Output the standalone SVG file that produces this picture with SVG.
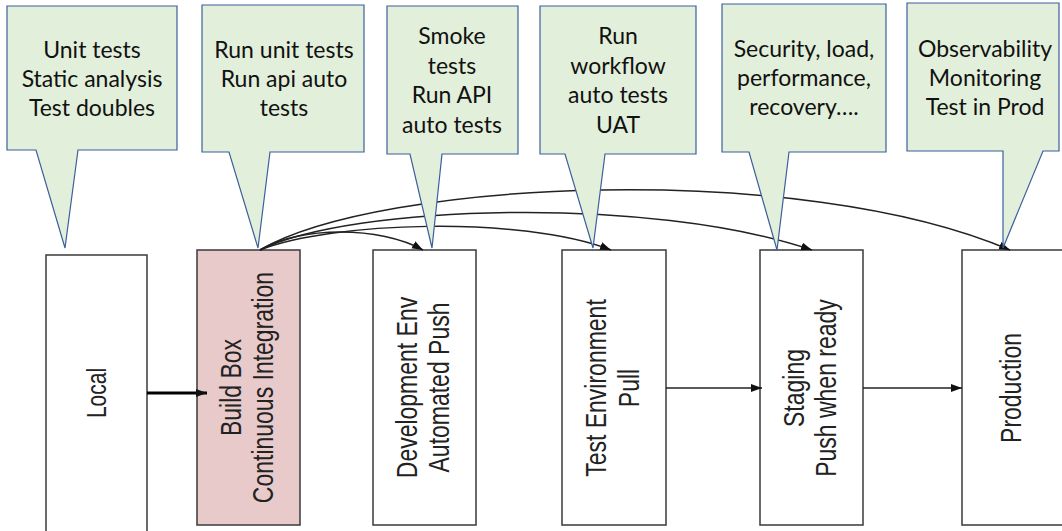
<svg xmlns="http://www.w3.org/2000/svg" width="1062" height="531" viewBox="0 0 1062 531">
<defs>
<marker id="ah" markerUnits="userSpaceOnUse" markerWidth="12" markerHeight="10" refX="11" refY="4" orient="auto">
<path d="M0,0 L11,4 L0,8 Z" fill="#111"/>
</marker>
<style>
.box{fill:#fff;stroke:#3a3a3a;stroke-width:1.5}
.ci{fill:#e8caca}
.bt{font-family:"Liberation Sans",Arial,sans-serif;font-size:23px;fill:#222;text-anchor:middle}
.call{fill:#e2efda;stroke:#3b5f9e;stroke-width:1.2}
.ct{font-family:Lato,"Open Sans",sans-serif;font-size:23px;fill:#111;text-anchor:middle}
.cn{fill:none;stroke:#222;stroke-width:1.5}
.thick{stroke:#000;stroke-width:3}
</style>
</defs>
<rect width="1062" height="531" fill="#fff"/>
<g id="local">
<rect class="box" x="46" y="255" width="101" height="280"/>
<g transform="translate(96.5,393) rotate(-90) scale(1,1.3)"><text class="bt" style="font-size:21px" y="7">Local</text></g>
</g>
<g id="buildbox">
<rect class="box ci" x="197" y="250" width="103" height="275"/>
<g transform="translate(248.5,387.5) rotate(-90) scale(1,1.3)"><text class="bt" y="-6">Build Box</text><text class="bt" y="19">Continuous Integration</text></g>
</g>
<g id="devenv">
<rect class="box" x="373" y="250" width="103" height="275"/>
<g transform="translate(424.5,387.5) rotate(-90) scale(1,1.3)"><text class="bt" y="-6">Development Env</text><text class="bt" y="19">Automated Push</text></g>
</g>
<g id="testenv">
<rect class="box" x="562" y="250" width="104" height="275"/>
<g transform="translate(614,388) rotate(-90) scale(1,1.3)"><text class="bt" y="-6">Test Environment</text><text class="bt" y="19">Pull</text></g>
</g>
<g id="staging">
<rect class="box" x="760" y="250" width="103" height="275"/>
<g transform="translate(811.5,388) rotate(-90) scale(1,1.3)"><text class="bt" y="-6">Staging</text><text class="bt" y="19">Push when ready</text></g>
</g>
<g id="production">
<rect class="box" x="962" y="250" width="104" height="275"/>
<g transform="translate(1013.5,388) rotate(-90) scale(1,1.3)"><text class="bt" y="6">Production</text></g>
</g>
<g id="connectors">
<path class="cn thick" d="M147,393 H207" marker-end="url(#ah)"/>
<path class="cn" d="M666,388 H762" marker-end="url(#ah)"/>
<path class="cn" d="M863,388 H962" marker-end="url(#ah)"/>
<path class="cn" d="M260,250 C300,226 380,226 423,250" marker-end="url(#ah)"/>
<path class="cn" d="M260,250 C330,222 520,215 611,250" marker-end="url(#ah)"/>
<path class="cn" d="M260,250 C350,205 650,195 812,250" marker-end="url(#ah)"/>
<path class="cn" d="M260,250 C380,180 800,160 1010,250" marker-end="url(#ah)"/>
</g>
<g id="callout-local">
<path class="call" d="M7,6 H177 V150 H78 L65,248 L36,150 H7 Z"/>
<text class="ct" x="92" y="58">Unit tests</text><text class="ct" x="92" y="87">Static analysis</text><text class="ct" x="92" y="116">Test doubles</text>
</g>
<g id="callout-build">
<path class="call" d="M202,5 H364 V152 H270 L258,248 L229,152 H202 Z"/>
<text class="ct" x="284" y="58">Run unit tests</text><text class="ct" x="284" y="87">Run api auto</text><text class="ct" x="284" y="116">tests</text>
</g>
<g id="callout-dev">
<path class="call" d="M387,6 H518 V154 H442 L432,248 L410,154 H387 Z"/>
<text class="ct" x="452" y="44">Smoke</text><text class="ct" x="452" y="74">tests</text><text class="ct" x="452" y="103">Run API</text><text class="ct" x="452" y="133">auto tests</text>
</g>
<g id="callout-test">
<path class="call" d="M540,6 H696 V154 H605 L593,248 L565,154 H540 Z"/>
<text class="ct" x="618" y="44">Run</text><text class="ct" x="618" y="74">workflow</text><text class="ct" x="618" y="103">auto tests</text><text class="ct" x="618" y="133">UAT</text>
</g>
<g id="callout-staging">
<path class="call" d="M722,4 H886 V152 H789 L777,250 L749,152 H722 Z"/>
<text class="ct" x="804" y="57">Security, load,</text><text class="ct" x="804" y="86">performance,</text><text class="ct" x="804" y="115">recovery….</text>
</g>
<g id="callout-prod">
<path class="call" d="M907,3 H1059 V151 H1043 L1003,248 L1003,151 H907 Z"/>
<text class="ct" x="985" y="57">Observability</text><text class="ct" x="985" y="86">Monitoring</text><text class="ct" x="985" y="115">Test in Prod</text>
</g>
</svg>
